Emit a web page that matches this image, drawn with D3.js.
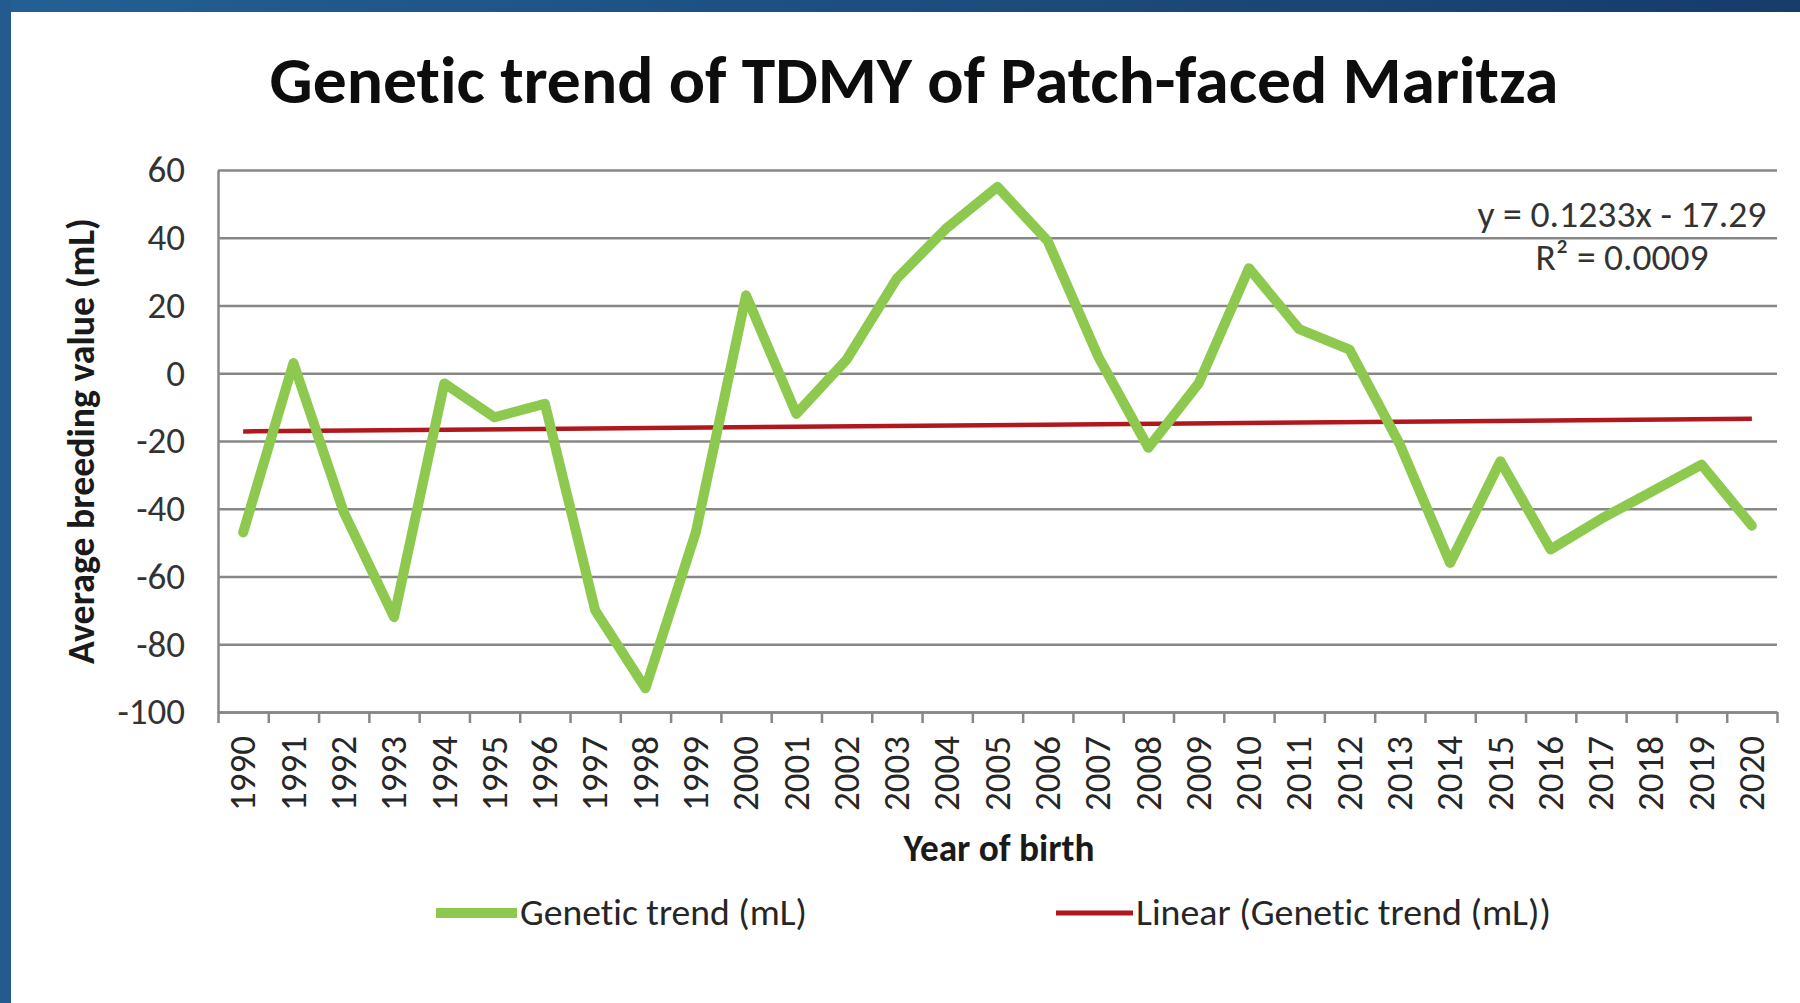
<!DOCTYPE html>
<html>
<head>
<meta charset="utf-8">
<script src="https://cdn.jsdelivr.net/npm/d3@7"></script>
<style>
  body { margin: 0; background: #fff; }
  svg text {
    font-family: Carlito, Lato, "Liberation Sans", sans-serif;
    font-variant-ligatures: none;
    font-feature-settings: "liga" 0;
  }
</style>
</head>
<body>
<div id="chart"></div>
<script>
// ============================================================================
// DATA
// ============================================================================
const years = ["1990", "1991", "1992", "1993", "1994", "1995", "1996", "1997",
    "1998", "1999", "2000", "2001", "2002", "2003", "2004", "2005", "2006",
    "2007", "2008", "2009", "2010", "2011", "2012", "2013", "2014", "2015",
    "2016", "2017", "2018", "2019", "2020"];

// average breeding value (mL)
const geneticTrend = [-47, 3, -41, -72, -3, -13, -9, -70, -93, -47, 23, -12, 4,
    28, 43, 55, 39, 5, -22, -3, 31, 13, 7, -21, -56, -26, -52, -43, -35, -27, -45];

const yTicks = [60, 40, 20, 0, -20, -40, -60, -80, -100];

// Excel linear trendline, x = 1..31
const trendSlope = 0.1233;
const trendIntercept = -17.29;
const trendLabels = ["y = 0.1233x - 17.29", "R\u00B2 = 0.0009"];

const seriesNames = ["Genetic trend (mL)", "Linear (Genetic trend (mL))"];

// ============================================================================
// DIMENSIONS
// ============================================================================
const W = 1800, H = 1003;
const plot = { left: 218, right: 1777, top: 170, bottom: 712 };
const green = '#8cc94e';
const red = '#b0181e';
const gridColor = '#878787';

const svg = d3.select('#chart')
    .append('svg')
    .attr('width', W)
    .attr('height', H);

// blue slide frame (top and left edges)
const defs = svg.append('defs');
const gTop = defs.append('linearGradient').attr('id', 'topBand');
gTop.append('stop').attr('offset', '0%').attr('stop-color', '#245f93');
gTop.append('stop').attr('offset', '100%').attr('stop-color', '#163c6a');
svg.append('rect').attr('x', 0).attr('y', 0).attr('width', W).attr('height', 12)
    .attr('fill', 'url(#topBand)');
svg.append('rect').attr('x', 0).attr('y', 0).attr('width', 11).attr('height', H)
    .attr('fill', '#235b8e');

// helper: scale font size so the text reaches a given width
function fitWidth(sel, w) {
    const fs = parseFloat(sel.style('font-size'));
    const len = sel.node().getComputedTextLength();
    sel.style('font-size', (fs * w / len) + 'px');
    return sel;
}

// ============================================================================
// SCALES
// ============================================================================
const x = d3.scaleBand()
    .domain(years)
    .range([plot.left, plot.right]);

// category edges, for the tick marks between labels
const xEdge = d3.scaleLinear()
    .domain([0, years.length])
    .range([plot.left, plot.right]);

const y = d3.scaleLinear()
    .domain([-100, 60])
    .range([plot.bottom, plot.top]);

const cx = d => x(d) + x.bandwidth() / 2;

// ============================================================================
// AXES
// ============================================================================
const yAxis = svg.append('g')
    .attr('transform', `translate(${plot.left},0)`)
    .call(d3.axisLeft(y)
        .tickValues(yTicks)
        .tickFormat(d => String(d))
        .tickSize(-(plot.right - plot.left))
        .tickSizeOuter(0)
        .tickPadding(33));
yAxis.selectAll('line').attr('stroke', gridColor).attr('stroke-width', 2.5);
yAxis.select('.domain').attr('stroke', gridColor).attr('stroke-width', 2.5);
yAxis.selectAll('text')
    .attr('fill', '#333')
    .style('font-size', '37px');

const xTicks = svg.append('g')
    .attr('transform', `translate(0,${plot.bottom})`)
    .call(d3.axisBottom(xEdge)
        .tickValues(d3.range(years.length + 1))
        .tickSize(11)
        .tickSizeOuter(0)
        .tickFormat(''));
xTicks.selectAll('line').attr('stroke', gridColor).attr('stroke-width', 2.5);
xTicks.select('.domain').attr('stroke', gridColor).attr('stroke-width', 2.5);

const xLabels = svg.append('g')
    .attr('transform', `translate(0,${plot.bottom})`)
    .call(d3.axisBottom(x).tickSize(0));
xLabels.select('.domain').remove();
xLabels.selectAll('text')
    .attr('transform', 'rotate(-90)')
    .attr('x', -24)
    .attr('y', 0)
    .attr('dy', '0.33em')
    .attr('fill', '#262626')
    .style('text-anchor', 'end')
    .style('font-size', '37px');

// ============================================================================
// LINES
// ============================================================================
const line = d3.line()
    .x((d, i) => cx(years[i]))
    .y(d => y(d));

const trendValues = [
    trendIntercept + trendSlope * 1,
    trendIntercept + trendSlope * years.length
];
svg.append('path')
    .datum(trendValues)
    .attr('fill', 'none')
    .attr('stroke', red)
    .attr('stroke-width', 4.5)
    .attr('d', d3.line()
        .x((d, i) => cx(years[i === 0 ? 0 : years.length - 1]))
        .y(d => y(d)));

svg.append('path')
    .datum(geneticTrend)
    .attr('fill', 'none')
    .attr('stroke', green)
    .attr('stroke-width', 10)
    .attr('stroke-linejoin', 'round')
    .attr('stroke-linecap', 'round')
    .attr('d', line);

// ============================================================================
// LABELS
// ============================================================================
fitWidth(svg.append('text')
    .attr('x', 914)
    .attr('y', 103)
    .attr('text-anchor', 'middle')
    .style('font-size', '56px')
    .style('font-weight', 'bold')
    .attr('fill', '#0d0d0d')
    .text('Genetic trend of TDMY of Patch-faced Maritza'), 1289);

fitWidth(svg.append('text')
    .attr('transform', 'translate(94,441) rotate(-90)')
    .attr('text-anchor', 'middle')
    .style('font-size', '33px')
    .style('font-weight', 'bold')
    .attr('fill', '#1a1a1a')
    .text('Average breeding value (mL)'), 446);

fitWidth(svg.append('text')
    .attr('x', 999)
    .attr('y', 861)
    .attr('text-anchor', 'middle')
    .style('font-size', '32px')
    .style('font-weight', 'bold')
    .attr('fill', '#1a1a1a')
    .text('Year of birth'), 191);

// trendline equation
[[trendLabels[0], 227, 289], [trendLabels[1], 270, 173]].forEach(([t, ty, w]) => {
    fitWidth(svg.append('text')
        .attr('x', 1622)
        .attr('y', ty)
        .attr('text-anchor', 'middle')
        .style('font-size', '33px')
        .attr('fill', '#333')
        .text(t), w);
});

// ============================================================================
// LEGEND
// ============================================================================
const legendItems = [
    { name: seriesNames[0], color: green, width: 10, x0: 436, x1: 517, textW: 287 },
    { name: seriesNames[1], color: red, width: 5, x0: 1056, x1: 1133, textW: 415 }
];

legendItems.forEach(item => {
    svg.append('line')
        .attr('x1', item.x0).attr('x2', item.x1)
        .attr('y1', 913).attr('y2', 913)
        .attr('stroke', item.color)
        .attr('stroke-width', item.width);
    svg.append('text')
        .attr('x', item.x1 + 3)
        .attr('y', 925)
        .attr('textLength', item.textW)
        .attr('lengthAdjust', 'spacingAndGlyphs')
        .style('font-size', '37px')
        .attr('fill', '#262626')
        .text(item.name);
});
</script>
</body>
</html>
